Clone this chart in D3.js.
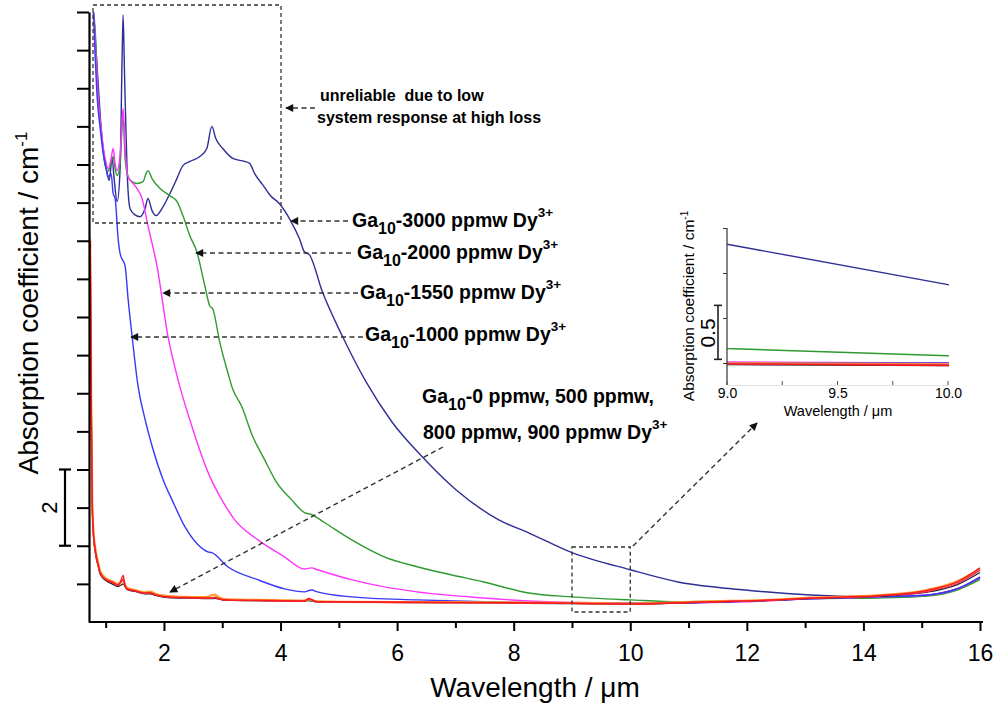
<!DOCTYPE html>
<html><head><meta charset="utf-8">
<script src="https://cdn.jsdelivr.net/npm/d3@7"></script>
<style>
body{margin:0;background:#fff}
svg{display:block}
text{font-family:"Liberation Sans",Arial,Helvetica,sans-serif;fill:#000}
</style>
</head><body>
<svg id="c" width="995" height="703"></svg>
<script>
// ---------- data ----------
const xTicksMajor = [2, 4, 6, 8, 10, 12, 14, 16];
const xTicksMinor = [1, 3, 5, 7, 9, 11, 13, 15];
const yTicks = [1, 2, 3, 4, 5, 6, 7, 8, 9, 10, 11, 12, 13, 14, 15, 16];
const insetXTicks = [9.0, 9.5, 10.0];
const insetXMinor = [9.25, 9.75];
const insetYTicks = [0.5, 1.0, 1.5, 2.0];
const scaleBar = [2, 4];
const insetScaleBar = [0.54, 1.14];

const wl3000 = [0.718,0.786,0.821,0.855,0.906,0.957,1.009,1.06,1.111,1.145,1.197,1.248,1.282,1.299,1.325,1.368,1.419,1.504,1.59,1.675,1.726,1.795,1.863,1.983,2.103,2.222,2.325,2.444,2.615,2.735,2.821,2.889,3.009,3.179,3.385,3.47,3.556,3.692,3.829,3.983,4.171,4.325,4.41,4.496,4.718,5.06,5.47,5.915,6.427,7.009,7.744,8.256,9.0,10.0,10.82,11.97,13.09,14.24,14.75,15.26,15.69,16.0];
const ab3000 = [16.1,16.05,15.3,14.53,13.29,12.42,11.89,11.58,12.16,11.63,11.03,11.89,14.79,15.92,14.26,11.82,10.84,10.68,10.63,10.84,11.11,10.79,10.66,10.89,11.24,11.63,11.97,12.08,12.21,12.42,13.0,12.68,12.42,12.16,12.08,12.03,11.76,11.47,11.18,10.97,10.53,10.05,9.71,9.63,8.66,7.5,6.29,5.24,4.34,3.47,2.68,2.34,1.82,1.37,1.05,0.84,0.71,0.66,0.66,0.74,0.92,1.16];

const wl2000 = [0.718,0.786,0.821,0.872,0.94,0.991,1.043,1.077,1.128,1.162,1.197,1.248,1.282,1.299,1.333,1.385,1.453,1.538,1.641,1.692,1.726,1.795,1.932,2.103,2.222,2.325,2.444,2.564,2.701,2.786,2.838,2.957,3.094,3.179,3.333,3.521,3.726,3.932,4.188,4.41,4.53,4.752,5.214,5.778,6.342,6.923,7.487,8.256,9.0,10.0,10.82,11.97,13.09,14.24,15.09,15.61,16.0];
const ab2000 = [16.1,16.05,15.5,13.74,12.61,11.97,11.82,11.95,12.21,11.89,11.71,12.03,13.0,13.3,12.16,11.68,11.55,11.5,11.55,11.76,11.84,11.63,11.37,11.18,11.03,10.66,10.13,9.71,8.82,8.29,8.21,7.34,6.55,6.11,5.66,4.87,4.26,3.66,3.21,2.87,2.82,2.61,2.16,1.71,1.45,1.24,1.05,0.76,0.66,0.58,0.53,0.55,0.61,0.63,0.68,0.84,1.11];

const wl1550 = [0.718,0.786,0.821,0.872,0.94,0.991,1.043,1.094,1.128,1.162,1.197,1.248,1.282,1.299,1.333,1.385,1.453,1.538,1.624,1.726,1.88,2.068,2.239,2.496,2.786,2.991,3.214,3.607,4.068,4.41,4.53,4.632,5.214,5.778,6.342,7.487,8.256,9.0,10.0,10.82,11.97,13.09,14.24,15.09,15.61,16.0];
const ab1550 = [16.1,16.05,15.18,13.74,12.68,12.16,11.89,12.16,12.42,12.03,11.84,12.29,13.08,13.47,12.42,11.68,11.53,11.37,11.11,10.39,9.34,7.5,6.37,5.05,3.82,3.21,2.68,2.16,1.71,1.39,1.42,1.37,1.11,0.92,0.79,0.63,0.55,0.51,0.50,0.50,0.53,0.61,0.66,0.71,0.87,1.18];

const wl1000 = [0.718,0.786,0.821,0.855,0.906,0.957,1.009,1.043,1.094,1.128,1.162,1.214,1.248,1.299,1.333,1.385,1.453,1.556,1.675,1.812,1.983,2.137,2.359,2.581,2.752,2.821,3.094,3.607,4.068,4.41,4.53,4.632,5.214,6.342,7.487,9.0,10.0,10.82,13.09,14.24,15.09,15.61,16.0];
const ab1000 = [16.1,16.0,14.79,13.74,12.95,12.29,11.89,11.68,11.76,11.24,11.11,10.05,9.66,9.47,9.34,8.47,7.5,6.18,5.32,4.53,3.74,3.21,2.5,2.03,1.84,1.82,1.45,1.11,0.87,0.79,0.84,0.79,0.66,0.58,0.53,0.50,0.50,0.50,0.61,0.66,0.71,0.87,1.18];

const wlBase = [0.718,0.735,0.752,0.769,0.786,0.821,0.872,0.906,1.009,1.111,1.214,1.265,1.299,1.333,1.368,1.5,1.675,1.761,1.85,2.068,2.5,2.75,2.821,2.872,2.95,3.043,3.5,4.0,4.41,4.479,4.632,5.0,6.342,8.256,9.0,10.0,11.38,12.5,13.09,14.24,15.09,15.61,16.0];
const ab0   = [9.8,9.7,5.7,3.1,2.35,1.82,1.45,1.25,1.08,1.0,0.93,0.97,1.0,0.92,0.85,0.8,0.74,0.74,0.7,0.64,0.62,0.61,0.61,0.62,0.6,0.57,0.56,0.55,0.54,0.56,0.52,0.52,0.51,0.49,0.48,0.47,0.52,0.57,0.62,0.67,0.78,0.98,1.30];
const ab900 = [10.0,9.9,5.8,3.2,2.4,1.87,1.48,1.27,1.1,1.03,0.96,1.05,1.12,0.94,0.86,0.81,0.75,0.76,0.71,0.65,0.63,0.62,0.63,0.64,0.6,0.58,0.56,0.55,0.55,0.6,0.53,0.52,0.51,0.5,0.49,0.48,0.53,0.58,0.62,0.68,0.80,1.01,1.36];
const ab800 = [10.1,10.0,5.9,3.3,2.5,1.95,1.55,1.33,1.14,1.07,1.0,1.05,1.1,0.98,0.9,0.84,0.78,0.8,0.74,0.68,0.65,0.66,0.7,0.72,0.64,0.6,0.58,0.57,0.56,0.59,0.54,0.53,0.52,0.51,0.5,0.49,0.54,0.59,0.64,0.70,0.84,1.07,1.40];
const ab500 = [10.0,9.97,5.84,3.21,2.42,1.89,1.5,1.29,1.11,1.05,0.97,1.1,1.22,0.95,0.87,0.82,0.76,0.77,0.72,0.66,0.64,0.63,0.63,0.65,0.61,0.58,0.57,0.56,0.55,0.62,0.53,0.53,0.52,0.5,0.49,0.47,0.53,0.58,0.63,0.69,0.83,1.05,1.42];

const labelConc = ["3000", "2000", "1550", "1000"];
const baseLabel1 = "-0 ppmw, 500 ppmw,";
const baseLabel2 = "800 ppmw, 900 ppmw Dy";
const noteLines = ["unreliable  due to low", "system response at high loss"];

// ---------- build ----------
const series = [
  {wl: wl3000, ab: ab3000, color: "#2e2e96", w: 1.4},
  {wl: wl2000, ab: ab2000, color: "#2f9a2f", w: 1.4},
  {wl: wl1550, ab: ab1550, color: "#ff33ff", w: 1.4},
  {wl: wl1000, ab: ab1000, color: "#3838f5", w: 1.4},
  {wl: wlBase, ab: ab0,   color: "#202020", w: 1.2},
  {wl: wlBase, ab: ab800, color: "#ff9a30", w: 2.2},
  {wl: wlBase, ab: ab900, color: "#e8305a", w: 1.3},
  {wl: wlBase, ab: ab500, color: "#ff1a1a", w: 1.4}
].map(s => ({...s, pts: s.wl.map((w, i) => [w, s.ab[i]])}));

const svg = d3.select("#c");
const defs = svg.append("defs");
defs.append("clipPath").attr("id", "mainClip").append("rect")
  .attr("x", 89).attr("y", 12).attr("width", 894).attr("height", 610);
defs.append("clipPath").attr("id", "insetClip").append("rect")
  .attr("x", 727).attr("y", 226).attr("width", 222).attr("height", 159);
defs.append("marker").attr("id", "ah").attr("viewBox", "0 0 10 10")
  .attr("refX", 9).attr("refY", 5).attr("markerWidth", 10).attr("markerHeight", 8)
  .attr("markerUnits", "userSpaceOnUse").attr("orient", "auto")
  .append("path").attr("d", "M0,0 L10,5 L0,10 z").attr("fill", "#111");

const x = d3.scaleLinear().domain([0.714, 16]).range([89, 980]);
const y = d3.scaleLinear().domain([0, 16]).range([622, 12]);

// curves
const line = d3.line().x(d => x(d[0])).y(d => y(d[1])).curve(d3.curveMonotoneX);
const gLines = svg.append("g").attr("clip-path", "url(#mainClip)");
gLines.selectAll("path").data(series).join("path")
  .attr("d", s => line(s.pts)).attr("fill", "none")
  .attr("stroke", s => s.color).attr("stroke-width", s => s.w)
  .attr("stroke-linejoin", "round");

// axes
const gx = svg.append("g").attr("transform", "translate(0,622)")
  .call(d3.axisBottom(x).tickValues(xTicksMajor).tickSize(9).tickSizeOuter(0).tickPadding(14).tickFormat(d3.format("d")));
gx.select(".domain").attr("d", "M89,0H983");
svg.append("g").attr("transform", "translate(0,622)")
  .call(d3.axisBottom(x).tickValues(xTicksMinor).tickSize(6).tickFormat(""))
  .select(".domain").remove();
const gy = svg.append("g").attr("transform", "translate(89,0)")
  .call(d3.axisLeft(y).tickValues(yTicks).tickSize(12).tickSizeOuter(0).tickFormat(""));
svg.selectAll(".domain").attr("stroke", "#000").attr("stroke-width", 2.2);
svg.selectAll(".tick line").attr("stroke", "#000").attr("stroke-width", 2);
gx.selectAll(".tick text").attr("font-size", 23).attr("font-family", "Liberation Sans, Arial, sans-serif");

// scale bar
const sb = svg.append("g").attr("stroke", "#000").attr("stroke-width", 2.2);
sb.append("line").attr("x1", 65).attr("x2", 65).attr("y1", y(scaleBar[0])).attr("y2", y(scaleBar[1]));
sb.append("line").attr("x1", 59).attr("x2", 71).attr("y1", y(scaleBar[0])).attr("y2", y(scaleBar[0]));
sb.append("line").attr("x1", 59).attr("x2", 71).attr("y1", y(scaleBar[1])).attr("y2", y(scaleBar[1]));
svg.append("text").attr("transform", `translate(57,${y((scaleBar[0] + scaleBar[1]) / 2)}) rotate(-90)`)
  .attr("text-anchor", "middle").attr("font-size", 22).text(String(scaleBar[1] - scaleBar[0]));

// axis titles
svg.append("text").attr("x", 535).attr("y", 697).attr("text-anchor", "middle")
  .attr("font-size", 28).text("Wavelength / \u03bcm");
const yt = svg.append("text").attr("transform", "translate(38,303) rotate(-90)")
  .attr("text-anchor", "middle").attr("font-size", 28);
yt.append("tspan").text("Absorption coefficient / cm");
yt.append("tspan").attr("dy", -11).attr("font-size", 17).text("-1");

// ---------- annotations ----------
const dash = "5,3.5";
const ann = svg.append("g");
ann.append("rect").attr("x", 93).attr("y", 5).attr("width", 188).attr("height", 218)
  .attr("fill", "none").attr("stroke", "#333").attr("stroke-width", 1.3).attr("stroke-dasharray", "4,3");
ann.append("rect").attr("x", x(9)).attr("y", 547).attr("width", x(10) - x(9)).attr("height", 65)
  .attr("fill", "none").attr("stroke", "#333").attr("stroke-width", 1.3).attr("stroke-dasharray", "4,3");

const arrows = [
  [315, 108, 286, 108],
  [348, 221, 291, 221],
  [351, 253, 196, 253],
  [358, 293, 163, 293],
  [363, 337, 131, 337],
  [443, 447, 170, 592],
  [633, 546, 757, 423]
];
ann.selectAll("line.arr").data(arrows).join("line").attr("class", "arr")
  .attr("x1", d => d[0]).attr("y1", d => d[1]).attr("x2", d => d[2]).attr("y2", d => d[3])
  .attr("stroke", "#333").attr("stroke-width", 1.4).attr("stroke-dasharray", dash)
  .attr("marker-end", "url(#ah)");

// note text
noteLines.forEach((t, i) => {
  ann.append("text").attr("x", i === 0 ? 320 : 317).attr("y", i === 0 ? 101 : 123)
    .attr("font-size", 16).attr("font-weight", "bold").attr("xml:space", "preserve")
    .style("white-space", "pre").text(t);
});

function gaLabel(px, py, rest, sup) {
  const t = ann.append("text").attr("x", px).attr("y", py)
    .attr("font-size", 19.5).attr("font-weight", "bold");
  t.append("tspan").text("Ga");
  t.append("tspan").attr("dy", 7).attr("font-size", 16).text("10");
  t.append("tspan").attr("dy", -7).text(rest);
  if (sup) t.append("tspan").attr("dy", -10).attr("font-size", 13.5).text(sup);
}
const labelPos = [[352, 227], [357, 259], [360, 299], [365, 341]];
labelConc.forEach((c, i) => gaLabel(labelPos[i][0], labelPos[i][1], "-" + c + " ppmw Dy", "3+"));
gaLabel(422, 403, baseLabel1, null);
{
  const t = ann.append("text").attr("x", 423).attr("y", 439).attr("font-size", 19.5).attr("font-weight", "bold");
  t.append("tspan").text(baseLabel2);
  t.append("tspan").attr("dy", -10).attr("font-size", 13.5).text("3+");
}

// ---------- inset ----------
const xi = d3.scaleLinear().domain([9, 10]).range([727, 948]);
const yi = d3.scaleLinear().domain([0.255, 2.0]).range([385, 228]);
const lineI = d3.line().x(d => xi(d[0])).y(d => yi(d[1]));
const gi = svg.append("g");
gi.append("g").attr("clip-path", "url(#insetClip)").selectAll("path").data(series).join("path")
  .attr("d", s => lineI(s.pts)).attr("fill", "none")
  .attr("stroke", s => s.color).attr("stroke-width", s => Math.min(s.w, 1.6));

const giy = gi.append("g").attr("transform", "translate(727,0)")
  .call(d3.axisLeft(yi).tickValues(insetYTicks).tickSize(4).tickSizeOuter(0).tickFormat(""));
giy.select(".domain").attr("d", "M0,228V385").attr("stroke", "#333").attr("stroke-width", 1.2);
giy.selectAll(".tick line").attr("stroke", "#333").attr("stroke-width", 1);
const gix = gi.append("g").attr("transform", "translate(0,385)")
  .call(d3.axisBottom(xi).tickValues(insetXTicks).tickSize(0).tickPadding(3).tickFormat(d3.format(".1f")));
gix.select(".domain").attr("stroke", "#ddd").attr("stroke-width", 0.8);
gix.selectAll(".tick text").attr("font-size", 14).attr("font-family", "Liberation Sans, Arial, sans-serif").attr("fill", "#111");
gi.selectAll("line.mt").data(insetXMinor.concat(insetXTicks)).join("line").attr("class", "mt")
  .attr("x1", d => xi(d)).attr("x2", d => xi(d)).attr("y1", 385).attr("y2", 381)
  .attr("stroke", "#555").attr("stroke-width", 1);

const isb = gi.append("g").attr("stroke", "#222").attr("stroke-width", 1.6);
isb.append("line").attr("x1", 718).attr("x2", 718).attr("y1", yi(insetScaleBar[0])).attr("y2", yi(insetScaleBar[1]));
isb.append("line").attr("x1", 714).attr("x2", 722).attr("y1", yi(insetScaleBar[0])).attr("y2", yi(insetScaleBar[0]));
isb.append("line").attr("x1", 714).attr("x2", 722).attr("y1", yi(insetScaleBar[1])).attr("y2", yi(insetScaleBar[1]));
gi.append("text").attr("transform", `translate(715,333) rotate(-90)`).attr("text-anchor", "middle")
  .attr("font-size", 21).text("0.5");
const iyt = gi.append("text").attr("transform", "translate(694,306) rotate(-90)")
  .attr("text-anchor", "middle").attr("font-size", 15.5);
iyt.append("tspan").text("Absorption coefficient / cm");
iyt.append("tspan").attr("dy", -6).attr("font-size", 10).text("-1");
gi.append("text").attr("x", 838).attr("y", 416).attr("text-anchor", "middle")
  .attr("font-size", 14.5).text("Wavelength / \u03bcm");
</script>
</body></html>
